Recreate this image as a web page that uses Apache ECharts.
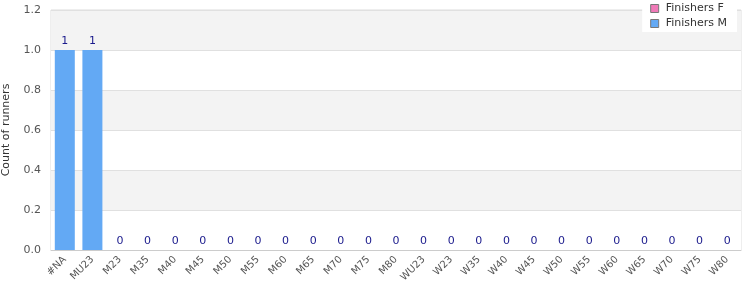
<!DOCTYPE html>
<html><head><meta charset="utf-8">
<script src="https://cdn.jsdelivr.net/npm/echarts@6/dist/echarts.min.js"></script>
<style>html,body{margin:0;padding:0;background:#fff}#c{width:750px;height:300px}</style>
</head><body><div id="c"></div>
<script>
const categories = ['#NA','MU23','M23','M35','M40','M45','M50','M55','M60','M65','M70','M75','M80','WU23','W23','W35','W40','W45','W50','W55','W60','W65','W70','W75','W80'];
const finishersF = [0,0,0,0,0,0,0,0,0,0,0,0,0,0,0,0,0,0,0,0,0,0,0,0,0];
const finishersM = [1,1,0,0,0,0,0,0,0,0,0,0,0,0,0,0,0,0,0,0,0,0,0,0,0];
const yTicks = [0, 0.2, 0.4, 0.6, 0.8, 1.0, 1.2];

const chart = echarts.init(document.getElementById('c'));
chart.setOption({
  animation: false,
  textStyle: { fontFamily: 'DejaVu Sans' },
  grid: { left: 51, right: 9, top: 10, bottom: 50, containLabel: false, outerBoundsMode: 'none',
    show: true, borderColor: '#ddd', borderWidth: 1, backgroundColor: 'transparent' },
  legend: {
    orient: 'vertical', right: 13, top: 0,
    backgroundColor: '#fff', padding: [3, 10, 3, 8], itemGap: 4,
    itemWidth: 8, itemHeight: 8, icon: 'rect',
    itemStyle: { borderColor: '#777', borderWidth: 1 },
    textStyle: { fontSize: 11, color: '#333', fontFamily: 'DejaVu Sans', padding: [0, 0, 0, 2] },
    data: ['Finishers F', 'Finishers M']
  },
  xAxis: {
    type: 'category', data: categories,
    axisLine: { lineStyle: { color: '#ccc' } },
    axisTick: { show: false },
    axisLabel: { rotate: 45, fontSize: 10, color: '#555', interval: 0, margin: 8 }
  },
  yAxis: {
    type: 'value', min: yTicks[0], max: yTicks[yTicks.length - 1], interval: 0.2,
    name: 'Count of runners', nameLocation: 'middle', nameGap: 39,
    nameTextStyle: { fontSize: 11, color: '#333' },
    axisLine: { show: false }, axisTick: { show: false },
    axisLabel: { fontSize: 11, color: '#555', margin: 10, formatter: v => v.toFixed(1) },
    splitLine: { lineStyle: { color: '#e0e0e0' } },
    splitArea: { show: true, areaStyle: { color: ['#ffffff', '#f3f3f3'] } }
  },
  series: [
    { name: 'Finishers F', type: 'bar', stack: 'a', data: finishersF, barWidth: 20,
      itemStyle: { color: '#f07ab8' } },
    { name: 'Finishers M', type: 'bar', stack: 'a', data: finishersM, barWidth: 20,
      itemStyle: { color: '#63a9f4' },
      label: { show: true, position: 'top', color: '#1a1a8c', fontSize: 11, distance: 3 } }
  ]
});
</script></body></html>
